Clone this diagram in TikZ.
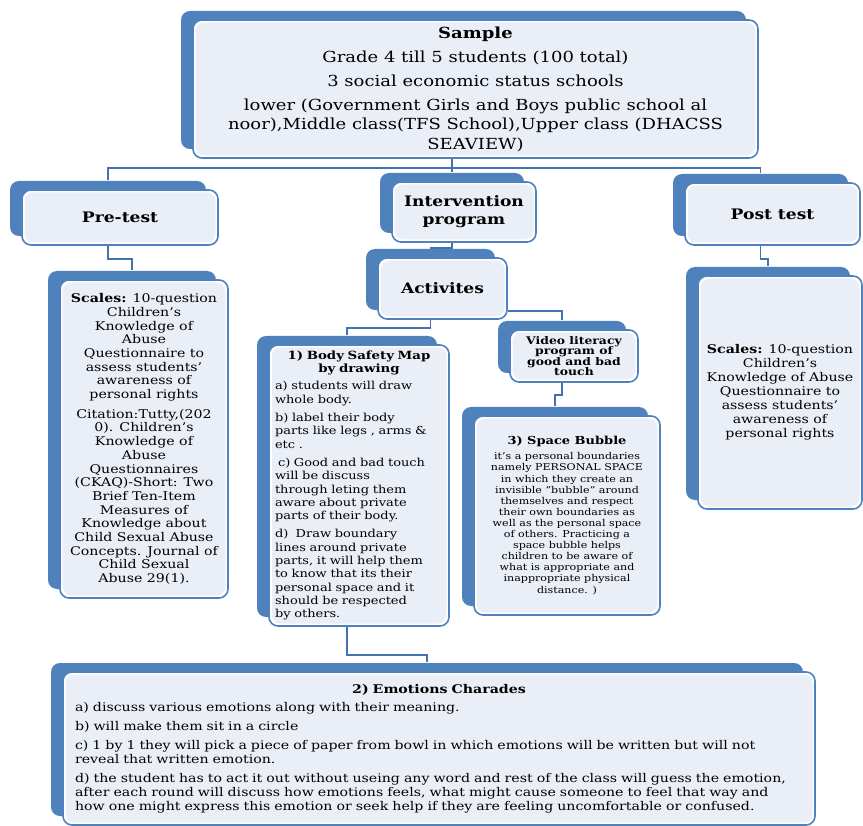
\documentclass[tikz,border=0pt]{standalone}
\usepackage{fontspec}
\setmainfont{DejaVu Serif}[FakeStretch=1.18]
\usepackage{xcolor}
\definecolor{boxblue} {HTML}{4F81BD}
\definecolor{boxfill} {HTML}{EAEFF7}
\definecolor{lineblue}{HTML}{4472B0}
\usetikzlibrary{shadows,calc}
\setlength{\parindent}{0pt}
\tikzset{ % Setup for the flow boxes
box/.style={rectangle, rounded corners=9pt, draw=boxblue, line width=1.6pt, fill=white, inner sep=0pt, align=center,
  copy shadow={shadow xshift=-12pt, shadow yshift=9pt, draw=none, fill=boxblue},
  path picture={\fill[boxfill] ([shift={(2.5pt,-2.5pt)}]path picture bounding box.north west) rectangle ([shift={(-2.5pt,2.5pt)}]path picture bounding box.south east);}},
conn/.style={draw=lineblue, line width=1.8pt},
headfont/.style={font=\bfseries\fontsize{14.5}{18}\selectfont},
}

\begin{document}
\begin{tikzpicture}[x=1pt, y=-1pt]
            \fill[white] (0,0) rectangle (863,826);
            \useasboundingbox (0,0) rectangle (863,826);
            \node [box, minimum width=565pt, minimum height=138pt, font=\fontsize{15.25}{19.5}\selectfont] (sample) at (475.5,89)
                {\textbf{Sample}\\[4.5pt] Grade 4 till 5 students (100 total)\\[4.5pt] 3 social economic status schools\\[4.5pt]
                 lower (Government Girls and Boys public school al\\ noor),Middle class(TFS School),Upper class (DHACSS\\ SEAVIEW)};
            \node [box, headfont, minimum width=196pt, minimum height=55pt] (pretest) at (120,217.5) {Pre-test};
            \node [box, headfont, minimum width=144pt, minimum height=60pt] (interv) at (464,212) {Intervention\\program};
            \node [box, headfont, minimum width=175pt, minimum height=62pt] (posttest) at (772.5,214) {Post test};
            \node [box, font=\fontsize{12}{13.7}\selectfont, minimum width=168pt, minimum height=318pt] (prescales) at (144,439)
                {\textbf{Scales:} 10-question\\ Children's\\ Knowledge of\\ Abuse\\ Questionnaire to\\ assess students'\\ awareness of\\ personal rights\\[6pt]
                 Citation:Tutty,(202\\ 0). Children's\\ Knowledge of\\ Abuse\\ Questionnaires\\ (CKAQ)-Short: Two\\ Brief Ten-Item\\ Measures of\\ Knowledge about\\ Child Sexual Abuse\\ Concepts. Journal of\\ Child Sexual\\ Abuse 29(1).};
            \node [box, headfont, minimum width=129pt, minimum height=61pt] (activ) at (442.5,288.5) {Activites};
            \node [box, font=\fontsize{12}{14}\selectfont, minimum width=164pt, minimum height=233pt] (postscales) at (780,392.5)
                {\textbf{Scales:} 10-question\\ Children's\\ Knowledge of Abuse\\ Questionnaire to\\ assess students'\\ awareness of\\ personal rights};
            \node [box, align=left, text width=168pt, font=\fontsize{11}{13.3}\selectfont, minimum width=180pt, minimum height=281pt] (bodymap) at (359,485.5)
                {\centerline{\bfseries\fontsize{11.3}{13}\selectfont 1) Body Safety Map}
                 \centerline{\bfseries\fontsize{11.3}{13}\selectfont by drawing}\vspace{4pt}
                 a) students will draw\\ whole body.\\[5pt]
                 b) label their body\\ parts like legs , arms \&\\ etc .\\[5pt]
                 \hspace*{3pt}c) Good and bad touch\\ will be discuss\\ through leting them\\ aware about private\\ parts of their body.\\[5pt]
                 d)\ \ Draw boundary\\ lines around private\\ parts, it will help them\\ to know that its their\\ personal space and it\\ should be respected\\ by others.};
            \node [box, font=\bfseries\fontsize{10.5}{10.5}\selectfont, minimum width=128pt, minimum height=52pt] (video) at (574,356)
                {Video literacy\\ program of\\ good and bad\\ touch};
            \node [box, font=\fontsize{9.4}{11.1}\selectfont, minimum width=186pt, minimum height=199pt] (bubble) at (567,515.5)
                {{\bfseries\fontsize{11}{12}\selectfont 3) Space Bubble}\\[4pt] it's a personal boundaries\\ namely PERSONAL SPACE\\ in which they create an\\ invisible "bubble" around\\ themselves and respect\\ their own boundaries as\\ well as the personal space\\ of others. Practicing a\\ space bubble helps\\ children to be aware of\\ what is appropriate and\\ inappropriate physical\\ distance. )};
            \node [box, align=left, text width=728pt, font=\fontsize{12}{14}\selectfont, minimum width=752pt, minimum height=153pt] (charades) at (439,748.5)
                {\centerline{\bfseries 2) Emotions Charades}\vspace{4pt}
                 a) discuss various emotions along with their meaning.\\[5pt]
                 b) will make them sit in a circle\\[5pt]
                 c) 1 by 1 they will pick a piece of paper from bowl in which emotions will be written but will not\\ reveal that written emotion.\\[5pt]
                 d) the student has to act it out without useing any word and rest of the class will guess the emotion,\\ after each round will discuss how emotions feels, what might cause someone to feel that way and\\ how one might express this emotion or seek help if they are feeling uncomfortable or confused.};
            % back-box tops and bottoms, where the connectors meet
            \foreach \n in {sample,pretest,interv,posttest,prescales,activ,postscales,bodymap,video,bubble,charades}
                {\coordinate (\n-top) at ([xshift=-12pt,yshift=9pt]\n.north);
                 \coordinate (\n-bot) at ([xshift=-12pt]\n.south);}
            \draw[conn] (sample.south -| interv-top) -- (interv-top);
            \draw[conn] (pretest-top) |- ([yshift=-9pt]sample.south) -| (posttest-top);
            \draw[conn] (pretest-bot) -- ++(0,13) -| (prescales-top);
            \draw[conn] (posttest-bot) -- ++(0,13) -| (postscales-top);
            \draw[conn] (interv-bot) -- ++(0,5) -| (activ-top);
            \draw[conn] (activ-bot) -- ++(0,8) -| (bodymap-top);
            \draw[conn] ([yshift=9pt]activ.south east) -| (video-top);
            \draw[conn] (video-bot) -- ++(0,12) -| (bubble-top);
            \draw[conn] (bodymap-bot) -- ++(0,28) -| (charades-top);
        \end{tikzpicture}
\end{document}
